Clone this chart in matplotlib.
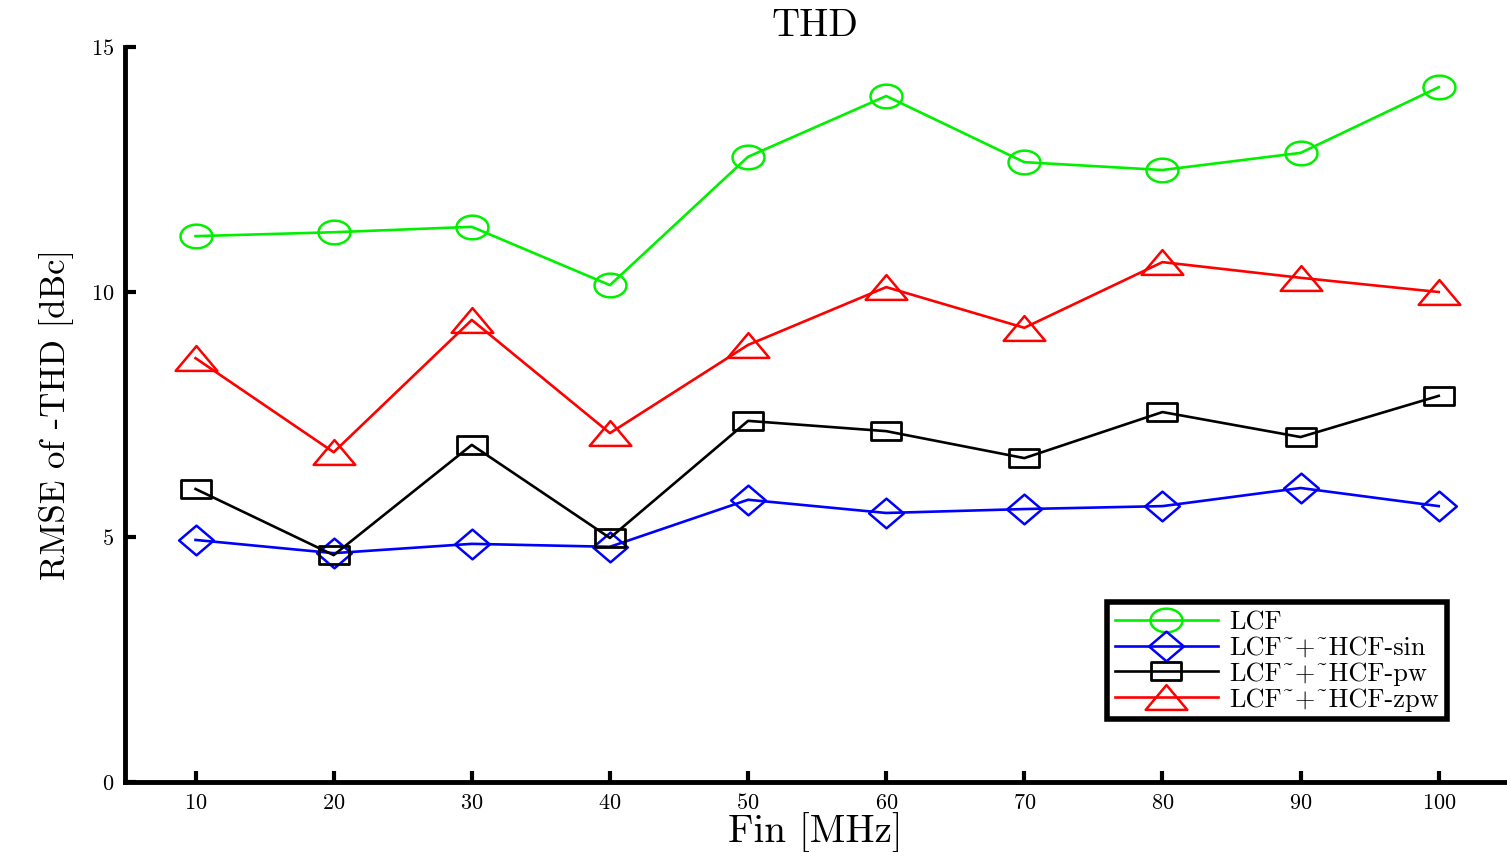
import numpy as np
import matplotlib
matplotlib.use('Agg')
import matplotlib.pyplot as plt
from matplotlib.path import Path

plt.rcParams['font.family'] = ['cmr10', 'DejaVu Serif']
plt.rcParams['axes.formatter.use_mathtext'] = True

fin = [10, 20, 30, 40, 50, 60, 70, 80, 90, 100]
lcf = [11.14, 11.22, 11.33, 10.14, 12.76, 14.0, 12.65, 12.49, 12.84, 14.18]
lcf_sin = [4.94, 4.67, 4.86, 4.80, 5.76, 5.49, 5.57, 5.63, 6.0, 5.63]
lcf_pw = [5.98, 4.63, 6.88, 4.98, 7.37, 7.16, 6.61, 7.55, 7.04, 7.88]
lcf_zpw = [8.65, 6.73, 9.43, 7.12, 8.92, 10.1, 9.27, 10.61, 10.29, 10.0]
labels = ['LCF', 'LCF~+~HCF-sin', 'LCF~+~HCF-pw', 'LCF~+~HCF-zpw']


def stretched(verts, sx):
    # markers in the picture are wider than tall
    v = [(x * sx, y) for x, y in verts]
    return Path(v + [v[0]], [Path.MOVETO] + [Path.LINETO] * (len(v) - 1) + [Path.CLOSEPOLY])


t = np.linspace(0, 2 * np.pi, 60, endpoint=False)
ellipse = stretched(list(zip(np.cos(t), np.sin(t))), 1.35)
diamond = stretched([(0, 1), (1, 0), (0, -1), (-1, 0)], 1.17)
square = stretched([(-1, -1), (1, -1), (1, 1), (-1, 1)], 1.7)
triangle = stretched([(0, 1), (1, -1), (-1, -1)], 1.68)

fig = plt.figure(figsize=(15.07, 8.52), dpi=100)
ax = fig.add_axes([0.083, 0.0822, 0.9157, 0.8626])

lw = 1.9
ax.plot(fin, lcf, color='#00f000', lw=lw, marker=ellipse, ms=23, mfc='none', mew=1.8, label=labels[0])
ax.plot(fin, lcf_sin, color='#0000ff', lw=lw, marker=diamond, ms=25, mfc='none', mew=1.8, label=labels[1])
ax.plot(fin, lcf_pw, color='black', lw=lw, marker=square, ms=22, mfc='none', mew=2.0, label=labels[2])
ax.plot(fin, lcf_zpw, color='#ff0000', lw=lw, marker=triangle, ms=30, mfc='none', mew=1.8, label=labels[3])

ax.set_xlim(4.9, 104.8)
ax.set_ylim(0, 15)
ax.set_xticks(fin)
ax.set_yticks([0, 5, 10, 15])
ax.tick_params(direction='in', length=8, width=3, labelsize=16, pad=8)
ax.spines['top'].set_visible(False)
ax.spines['right'].set_visible(False)
ax.spines['left'].set_linewidth(3.5)
ax.spines['bottom'].set_linewidth(3.5)

ax.set_title('THD', fontsize=28, pad=8)
ax.set_xlabel('Fin [MHz]', fontsize=28, labelpad=0)
ax.set_ylabel('RMSE of -THD [dBc]', fontsize=25, labelpad=12)

leg = ax.legend(loc='lower right', bbox_to_anchor=(0.958, 0.085), fontsize=19,
                fancybox=False, framealpha=1, edgecolor='black', handlelength=3.9,
                borderpad=0.3, labelspacing=0.08, handletextpad=0.45, borderaxespad=0)
leg.get_frame().set_linewidth(4)

fig.savefig('out.png', dpi=100)
